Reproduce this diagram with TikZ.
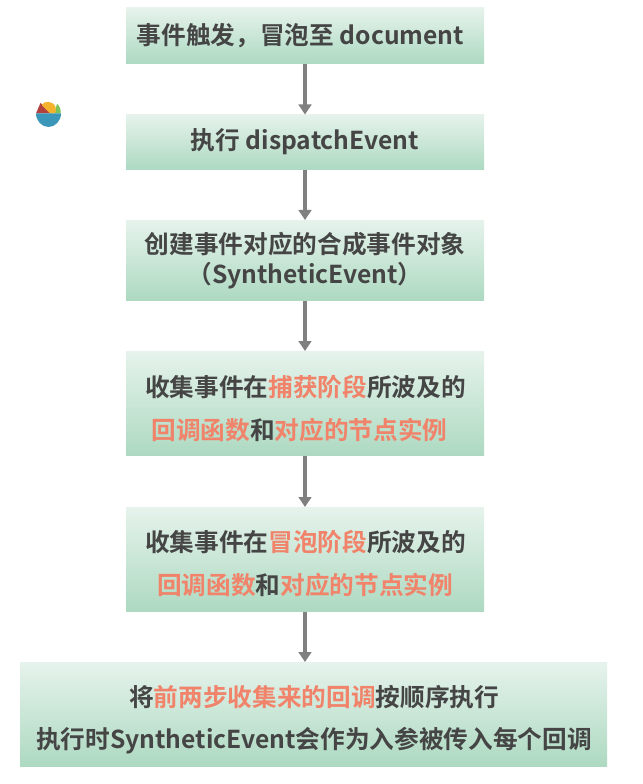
\documentclass[tikz,border=0pt]{standalone}
\usepackage{fontspec}
\usetikzlibrary{arrows.meta}
\newfontfamily\cjkbold{Noto Sans CJK SC Bold}
\definecolor{txt}{HTML}{454545}
\definecolor{hl}{HTML}{F0836A}
\definecolor{boxtop}{HTML}{E6F3EC}
\definecolor{boxbot}{HTML}{ADD9C1}
\definecolor{linkc}{HTML}{808080}
\definecolor{bowl}{HTML}{3A97B9}
\definecolor{fruitr}{HTML}{B0413E}
\definecolor{fruito}{HTML}{F5B22D}
\definecolor{fruitg}{HTML}{7CC35A}
\newcommand{\hlt}[1]{\textcolor{hl}{#1}}
\tikzset{
  px/.style={x=0.75pt,y=-0.75pt},
  stepbox/.style={rectangle,inner sep=0pt,outer sep=0pt,top color=boxtop,bottom color=boxbot,anchor=north west},
  label/.style={inner sep=0pt,outer sep=0pt,align=center,text=txt},
  tightlines/.style={label,font=\cjkbold\fontsize{18.5pt}{22pt}\selectfont},
  widelines/.style={label,font=\cjkbold\fontsize{18.5pt}{32.6pt}\selectfont},
  link/.style={draw=linkc,line width=2.5pt,-{Triangle[length=7.5pt,width=9.5pt,fill=linkc]}},
}
\begin{document}
\begin{tikzpicture}[px]
\useasboundingbox (0,0) rectangle (642,784);
\node[stepbox,minimum width=268.5pt,minimum height=42pt] (a) at (126,8) {};
\node[stepbox,minimum width=268.5pt,minimum height=41.6pt] (b) at (126,114.5) {};
\node[stepbox,minimum width=268.5pt,minimum height=60.4pt] (c) at (126,220) {};
\node[stepbox,minimum width=268.5pt,minimum height=78.4pt] (d) at (126,351) {};
\node[stepbox,minimum width=268.5pt,minimum height=78.4pt] (e) at (126,507) {};
\node[stepbox,minimum width=440.25pt,minimum height=78.4pt] (f) at (20,662) {};
\node[tightlines] (ta) at (300.5,36) {事件触发，冒泡至 document};
\node[tightlines] (tb) at (305,142) {执行 dispatchEvent};
\node[tightlines] (tc) at (305,260.5) {创建事件对应的合成事件对象\\（SyntheticEvent）};
\node[widelines] (td1) at (305.5,387) {收集事件在\hlt{捕获阶段}所波及的};
\node[widelines] (td2) at (299.5,430) {\hlt{回调函数}和\hlt{对应的节点实例}};
\node[widelines] (te1) at (305.5,542) {收集事件在\hlt{冒泡阶段}所波及的};
\node[widelines] (te2) at (305,585) {\hlt{回调函数}和\hlt{对应的节点实例}};
\node[widelines] (tf1) at (314,697) {将\hlt{前两步收集来的回调}按顺序执行};
\node[widelines] (tf2) at (314,741) {执行时SyntheticEvent会作为入参被传入每个回调};
\draw[link] (a.south) -- (b.north);
\draw[link] (b.south) -- (c.north);
\draw[link] (c.south) -- (d.north);
\draw[link] (d.south) -- (e.north);
\draw[link] (e.south) -- (e.south |- f.north);
% bowl icon
\fill[fruitr] (36,113.5) -- (40.5,103) -- (52,113.5) -- cycle;
\fill[fruitg] (54,113.5) -- (57,104) .. controls (60,106) and (61,110) .. (60.5,113.5) -- cycle;
\fill[fruito] (41.5,105) .. controls (44,100.5) and (53,100.5) .. (55.5,107) .. controls (56,110) and (56,112) .. (55,113.5) -- (50,113.5) -- cycle;
\fill[bowl] (36,113.5) -- (61,113.5) .. controls (61,121) and (55,127) .. (48.5,127) .. controls (42,127) and (36,121) .. (36,113.5) -- cycle;
\end{tikzpicture}
\end{document}
